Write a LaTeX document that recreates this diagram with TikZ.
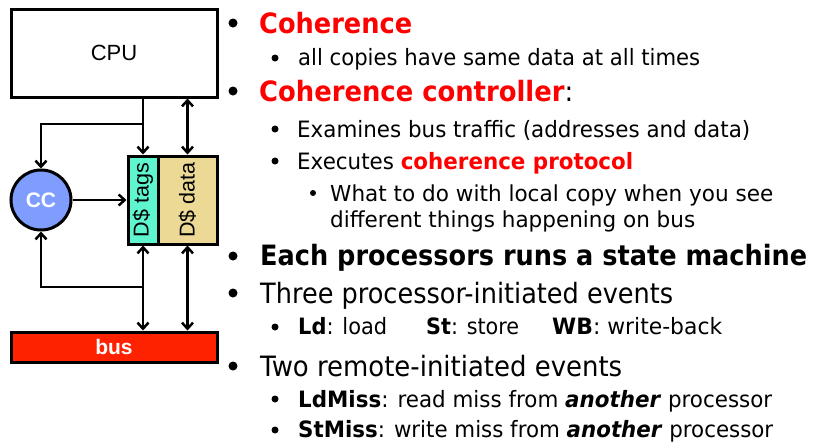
\documentclass[tikz,border=0pt]{standalone}
\usepackage{fontspec}
\usepackage{graphicx}
\setmainfont{Liberation Sans}
\newfontfamily\tah{DejaVu Sans}[BoldFont={DejaVu Sans Bold},ItalicFont={DejaVu Sans Oblique},BoldItalicFont={DejaVu Sans Bold Oblique}]
\usetikzlibrary{arrows.meta,calc}
\definecolor{hot}{RGB}{255,0,0}
\definecolor{tagc}{RGB}{94,245,207}
\definecolor{datac}{RGB}{236,217,150}
\definecolor{ccc}{RGB}{127,157,255}
\definecolor{busc}{RGB}{255,34,0}
\newcommand{\fitw}[2]{\resizebox{#1}{\height}{#2}}
\newcommand{\hl}[1]{{\bfseries\color{hot}#1}}
\begin{document}
\begin{tikzpicture}[x=1pt,y=-1pt,
  box/.style={draw=black,line width=3pt,inner sep=0pt},
  tip/.style={Straight Barb[length=6pt,width=11pt,line width=2.5pt]},
  conn/.style={line width=2.6pt,-{Straight Barb[length=6pt,width=11pt,line width=2.5pt]}},
  conn2/.style={line width=2.6pt,{Straight Barb[length=6pt,width=11pt,line width=2.5pt]}-{Straight Barb[length=6pt,width=11pt,line width=2.5pt]}},
  tline/.style={anchor=base west,inner sep=0pt,text=black},
  big/.style={tline,font=\tah\fontsize{28}{32}\selectfont},
  mid/.style={tline,font=\tah\fontsize{22.5}{26}\selectfont},
  sml/.style={tline,font=\tah\fontsize{22}{26}\selectfont},
  bula/.style={circle,fill=black,inner sep=0pt,minimum size=9pt},
  bulb/.style={circle,fill=black,inner sep=0pt,minimum size=7pt},
  bulc/.style={circle,fill=black,inner sep=0pt,minimum size=6pt}]
\useasboundingbox (0,0) rectangle (814,445);

% ---------- diagram ----------
\node[box,fill=white,minimum width=206pt,minimum height=88pt,font=\fontsize{22}{26}\selectfont] (cpu) at (114,53) {CPU};
\node[box,fill=tagc,minimum width=30pt,minimum height=88pt] (tags) at (143,200) {};
\node[box,fill=datac,minimum width=59pt,minimum height=88pt] (data) at (187.5,200) {};
\node[rotate=90,font=\fontsize{21.5}{25}\selectfont] (tagt) at (tags.center) {D\$ tags};
\node[rotate=90,font=\fontsize{21.5}{25}\selectfont] (datat) at (data.center) {D\$ data};
\node[box,circle,fill=ccc,minimum size=60pt,text=white,font=\bfseries\fontsize{21}{24}\selectfont] (cc) at (41,200) {CC};
\node[box,fill=busc,minimum width=206pt,minimum height=30pt,text=white,font=\bfseries\fontsize{21}{24}\selectfont] (bus) at (114,347) {bus};

\coordinate (up) at (143,124);
\coordinate (dn) at (143,287);
\draw[conn] (tags.north |- cpu.south) -- (tags.north);
\draw[conn] (up) -| (cc.north);
\draw[conn2] (data.north |- cpu.south) -- (data.north);
\draw[conn] (cc.east) -- (tags.west);
\draw[conn2] (tags.south) -- (tags.south |- bus.north);
\draw[conn] (dn) -| (cc.south);
\draw[conn2] (data.south) -- (data.south |- bus.north);

% ---------- bullets ----------
\node[bula] (b1) at (233,23) {};
\node[bulb] (b2) at (275,58) {};
\node[bula] (b3) at (233,91) {};
\node[bulb] (b4) at (275,129) {};
\node[bulb] (b5) at (275,161) {};
\node[bulc] (b6) at (313,193) {};
\node[bula] (b8) at (233,256) {};
\node[bula] (b9) at (233,293) {};
\node[bulb] (b10) at (275,327) {};
\node[bula] (b11) at (233,366) {};
\node[bulb] (b12) at (275,399) {};
\node[bulb] (b13) at (275,430) {};

% ---------- text ----------
\node[big] (t1) at (259,33) {\fitw{153pt}{\hl{Coherence}}};
\node[mid] (t2) at (298,65) {\fitw{402pt}{all copies have same data at all times}};
\node[big] (t3) at (259,101) {\fitw{314pt}{\hl{Coherence controller}:}};
\node[mid] (t4) at (297,137) {\fitw{453pt}{Examines bus traffic (addresses and data)}};
\node[mid] (t5) at (297,169) {\fitw{336pt}{Executes \hl{coherence protocol}}};
\node[sml] (t6) at (330,201) {\fitw{443pt}{What to do with local copy when you see}};
\node[sml] (t7) at (330,227) {\fitw{365pt}{different things happening on bus}};
\node[big] (t8) at (260,265) {\fitw{547pt}{\bfseries Each processors runs a state machine}};
\node[big] (t9) at (260,303) {\fitw{413pt}{Three processor-initiated events}};
\node[mid] (t10a) at (298,334) {\fitw{89pt}{\textbf{Ld}: load}};
\node[mid] (t10b) at (426,334) {\fitw{93pt}{\textbf{St}: store}};
\node[mid] (t10c) at (552,334) {\fitw{170pt}{\textbf{WB}: write-back}};
\node[big] (t11) at (260,376) {\fitw{362pt}{Two remote-initiated events}};
\node[mid] (t12) at (298,407) {\fitw{474pt}{\textbf{LdMiss}: read miss from \textbf{\itshape another} processor}};
\node[mid] (t13) at (298,437) {\fitw{475pt}{\textbf{StMiss}: write miss from \textbf{\itshape another} processor}};
\end{tikzpicture}
\end{document}
